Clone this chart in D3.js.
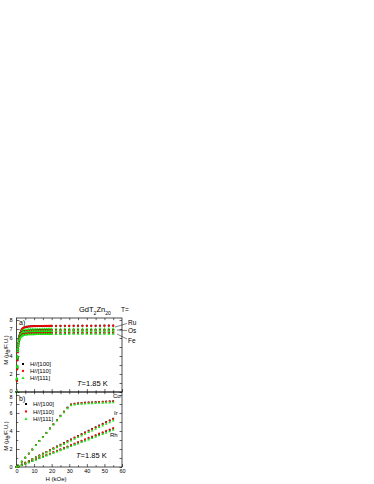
<!DOCTYPE html>
<html>
<head>
<meta charset="utf-8">
<script src="https://cdn.jsdelivr.net/npm/d3@7"></script>
<style>
  body { margin: 0; background: #fff; }
  svg { font-family: "Liberation Sans", Arial, sans-serif; }
  .tick text { font-size: 5.5px; fill: #000; }
  .tick line { stroke: #000; stroke-width: 0.6; }
</style>
</head>
<body>
<div id="chart"></div>
<script>
// field values (kOe)
var hA = [0, 0.2, 0.4, 0.6, 0.8, 1, 1.3, 1.6, 2, 2.5, 3, 3.5, 4,
  5, 6, 7, 8, 9, 10, 11, 12, 13, 14, 15, 16, 17, 18, 19, 20,
  22.5, 25, 27.5, 30, 32.5, 35, 37.5, 40, 42.5, 45, 47.5, 50, 52.5, 55];
var hB = [0, 1, 3, 5, 7, 9, 11, 13, 15, 17, 19, 21, 23, 25, 27, 29,
  31, 33, 35, 37, 39, 41, 43, 45, 47, 49, 51, 53, 55];

// panel a) T = Ru, Os, Fe
var ru100 = [0, 1.4, 2.8, 3.9, 4.8, 5.4, 5.9, 6.25, 6.55, 6.8, 6.95, 7.05, 7.12,
  7.2, 7.25, 7.28, 7.3, 7.31, 7.32, 7.32, 7.33, 7.33, 7.33, 7.34, 7.34, 7.34, 7.34, 7.35, 7.35,
  7.35, 7.35, 7.35, 7.35, 7.36, 7.36, 7.36, 7.36, 7.36, 7.36, 7.37, 7.37, 7.37, 7.37];
var ru110 = [0, 1.3, 2.7, 3.8, 4.7, 5.35, 5.85, 6.2, 6.5, 6.78, 6.93, 7.04, 7.11,
  7.19, 7.24, 7.27, 7.29, 7.3, 7.31, 7.32, 7.32, 7.33, 7.33, 7.33, 7.34, 7.34, 7.34, 7.34, 7.35,
  7.35, 7.35, 7.35, 7.35, 7.35, 7.36, 7.36, 7.36, 7.36, 7.36, 7.36, 7.37, 7.37, 7.37];
var ru111 = [0, 1.5, 2.9, 4.0, 4.9, 5.45, 5.85, 6.15, 6.4, 6.6, 6.72, 6.8, 6.85,
  6.9, 6.93, 6.95, 6.96, 6.97, 6.97, 6.98, 6.98, 6.98, 6.99, 6.99, 6.99, 6.99, 7.0, 7.0, 7.0,
  7.0, 7.0, 7.0, 7.0, 7.01, 7.01, 7.01, 7.01, 7.01, 7.01, 7.02, 7.02, 7.02, 7.02];
var os100 = [0, 1.4, 2.7, 3.8, 4.7, 5.3, 5.75, 6.05, 6.3, 6.5, 6.6, 6.67, 6.71,
  6.75, 6.77, 6.79, 6.8, 6.81, 6.81, 6.82, 6.82, 6.82, 6.83, 6.83, 6.83, 6.83, 6.84, 6.84, 6.84,
  6.84, 6.84, 6.85, 6.85, 6.85, 6.85, 6.85, 6.85, 6.86, 6.86, 6.86, 6.86, 6.86, 6.86];
var os110 = [0, 1.3, 2.6, 3.7, 4.6, 5.25, 5.7, 6.02, 6.28, 6.48, 6.59, 6.66, 6.7,
  6.74, 6.77, 6.78, 6.8, 6.8, 6.81, 6.81, 6.82, 6.82, 6.82, 6.83, 6.83, 6.83, 6.83, 6.84, 6.84,
  6.84, 6.84, 6.84, 6.85, 6.85, 6.85, 6.85, 6.85, 6.85, 6.86, 6.86, 6.86, 6.86, 6.86];
var os111 = [0, 1.5, 2.8, 3.9, 4.75, 5.3, 5.72, 6.0, 6.22, 6.42, 6.52, 6.59, 6.63,
  6.68, 6.7, 6.72, 6.73, 6.74, 6.75, 6.75, 6.76, 6.76, 6.76, 6.77, 6.77, 6.77, 6.77, 6.78, 6.78,
  6.78, 6.78, 6.78, 6.79, 6.79, 6.79, 6.79, 6.79, 6.8, 6.8, 6.8, 6.8, 6.8, 6.8];
var fe100 = [0, 1.3, 2.6, 3.6, 4.5, 5.1, 5.55, 5.85, 6.05, 6.22, 6.32, 6.38, 6.42,
  6.46, 6.48, 6.5, 6.51, 6.52, 6.52, 6.53, 6.53, 6.53, 6.54, 6.54, 6.54, 6.54, 6.55, 6.55, 6.55,
  6.55, 6.55, 6.55, 6.55, 6.56, 6.56, 6.56, 6.56, 6.56, 6.56, 6.56, 6.57, 6.57, 6.57];
var fe110 = [0, 1.2, 2.5, 3.5, 4.4, 5.05, 5.5, 5.82, 6.03, 6.2, 6.31, 6.37, 6.41,
  6.45, 6.48, 6.49, 6.5, 6.51, 6.52, 6.52, 6.53, 6.53, 6.53, 6.54, 6.54, 6.54, 6.54, 6.55, 6.55,
  6.55, 6.55, 6.55, 6.55, 6.55, 6.56, 6.56, 6.56, 6.56, 6.56, 6.56, 6.57, 6.57, 6.57];
var fe111 = [0, 1.4, 2.7, 3.7, 4.55, 5.1, 5.5, 5.78, 5.96, 6.12, 6.21, 6.27, 6.31,
  6.35, 6.37, 6.39, 6.4, 6.41, 6.41, 6.42, 6.42, 6.42, 6.43, 6.43, 6.43, 6.43, 6.44, 6.44, 6.44,
  6.44, 6.44, 6.44, 6.45, 6.45, 6.45, 6.45, 6.45, 6.45, 6.45, 6.46, 6.46, 6.46, 6.46];

// panel b) T = Co, Ir, Rh
var co100 = [0, 0.15, 0.6, 1.05, 1.5, 1.95, 2.45, 2.9, 3.35, 3.8, 4.3, 4.75, 5.2, 5.7, 6.15, 6.6,
  6.95, 7.03, 7.08, 7.12, 7.15, 7.17, 7.19, 7.21, 7.23, 7.25, 7.27, 7.29, 7.31];
var co110 = [0, 0.14, 0.58, 1.03, 1.48, 1.94, 2.43, 2.88, 3.34, 3.79, 4.28, 4.74, 5.19, 5.68, 6.13, 6.58,
  6.93, 7.02, 7.07, 7.11, 7.14, 7.16, 7.18, 7.2, 7.22, 7.24, 7.26, 7.27, 7.29];
var co111 = [0, 0.16, 0.6, 1.04, 1.49, 1.94, 2.42, 2.87, 3.32, 3.77, 4.25, 4.7, 5.15, 5.62, 6.06, 6.5,
  6.84, 6.92, 6.97, 7.0, 7.03, 7.05, 7.07, 7.09, 7.1, 7.12, 7.13, 7.15, 7.16];
var ir100 = [0, 0.08, 0.28, 0.48, 0.68, 0.88, 1.08, 1.28, 1.48, 1.68, 1.88, 2.08, 2.28, 2.48, 2.68, 2.88,
  3.07, 3.27, 3.46, 3.66, 3.85, 4.04, 4.23, 4.42, 4.61, 4.8, 4.99, 5.18, 5.37];
var ir110 = [0, 0.08, 0.27, 0.47, 0.67, 0.87, 1.07, 1.27, 1.47, 1.66, 1.86, 2.06, 2.26, 2.45, 2.65, 2.85,
  3.04, 3.24, 3.43, 3.62, 3.81, 4.0, 4.19, 4.38, 4.57, 4.76, 4.95, 5.14, 5.32];
var ir111 = [0, 0.07, 0.26, 0.45, 0.64, 0.83, 1.02, 1.21, 1.4, 1.59, 1.78, 1.97, 2.16, 2.35, 2.54, 2.73,
  2.92, 3.11, 3.3, 3.48, 3.67, 3.85, 4.04, 4.22, 4.41, 4.59, 4.78, 4.96, 5.15];
var rh100 = [0, 0.05, 0.2, 0.36, 0.52, 0.68, 0.84, 1.0, 1.15, 1.31, 1.47, 1.62, 1.78, 1.93, 2.09, 2.24,
  2.4, 2.55, 2.71, 2.86, 3.02, 3.17, 3.33, 3.48, 3.64, 3.79, 3.95, 4.1, 4.26];
var rh110 = [0, 0.06, 0.22, 0.38, 0.54, 0.7, 0.86, 1.02, 1.18, 1.34, 1.5, 1.66, 1.82, 1.97, 2.13, 2.29,
  2.45, 2.61, 2.77, 2.92, 3.08, 3.24, 3.4, 3.55, 3.71, 3.87, 4.03, 4.18, 4.34];
var rh111 = [0, 0.05, 0.19, 0.34, 0.49, 0.64, 0.8, 0.95, 1.1, 1.25, 1.4, 1.55, 1.7, 1.85, 2.0, 2.15,
  2.3, 2.45, 2.6, 2.75, 2.9, 3.04, 3.19, 3.34, 3.49, 3.64, 3.79, 3.94, 4.1];

var directions = ["H//[100]", "H//[110]", "H//[111]"];
var colors = ["#000000", "#ff0000", "#19e619"];
var shapes = [d3.symbolSquare, d3.symbolCircle, d3.symbolTriangle];
var yTicks = [0, 2, 4, 6, 7, 8];
var xTicks = [0, 10, 20, 30, 40, 50, 60];

var panelA = [[ru100, ru110, ru111], [os100, os110, os111], [fe100, fe110, fe111]];
var panelB = [[co100, co110, co111], [ir100, ir110, ir111], [rh100, rh110, rh111]];

var svg = d3.select("#chart").append("svg")
  .attr("width", 374)
  .attr("height", 484);

var x = d3.scaleLinear().domain([0, 60]).range([16.5, 122]);
var yA = d3.scaleLinear().domain([0, 8.22]).range([392, 318]);
var yB = d3.scaleLinear().domain([0, 8.33]).range([467, 392]);

// nudge labels where the two panels meet so "0" and "8" don't collide
function drawFrame(y, showX, nudge) {
  var g = svg.append("g");
  var top = y.range()[1], bottom = y.range()[0];

  // left axis, major + minor
  g.append("g").attr("transform", "translate(16.5,0)")
    .call(d3.axisLeft(y).tickValues(yTicks).tickSize(-3).tickPadding(4))
    .call(a => a.select(".domain").remove())
    .call(a => a.selectAll(".tick text")
      .attr("transform", d => d === nudge.value ? `translate(0,${nudge.dy})` : null));
  g.append("g").attr("transform", "translate(16.5,0)")
    .call(d3.axisLeft(y).tickValues([1, 3, 5]).tickSize(-1.8).tickFormat(""))
    .call(a => a.select(".domain").remove());
  // right axis
  g.append("g").attr("transform", "translate(122,0)")
    .call(d3.axisRight(y).tickValues([0, 1, 2, 3, 4, 5, 6, 7, 8]).tickSize(-2.5).tickFormat(""))
    .call(a => a.select(".domain").remove());
  // top axis
  g.append("g").attr("transform", `translate(0,${top})`)
    .call(d3.axisTop(x).tickValues(d3.range(5, 60, 5)).tickSize(-2.2).tickFormat(""))
    .call(a => a.select(".domain").remove());
  // bottom axis
  var bx = g.append("g").attr("transform", `translate(0,${bottom})`)
    .call(d3.axisBottom(x).tickValues(xTicks).tickSize(-3).tickPadding(2)
      .tickFormat(showX ? d3.format("d") : ""));
  bx.select(".domain").remove();
  g.append("g").attr("transform", `translate(0,${bottom})`)
    .call(d3.axisBottom(x).tickValues([5, 15, 25, 35, 45, 55]).tickSize(-1.8).tickFormat(""))
    .call(a => a.select(".domain").remove());

  g.append("rect")
    .attr("x", 16.5).attr("y", top)
    .attr("width", 122 - 16.5).attr("height", bottom - top)
    .attr("fill", "none").attr("stroke", "#000").attr("stroke-width", 0.7);
}

function drawSeries(h, groups, y, sizes) {
  groups.forEach(function(grp) {
    grp.forEach(function(vals, i) {
      var pts = h.map((d, k) => ({ h: d, m: vals[k] }));
      svg.append("g").selectAll("path")
        .data(pts)
        .enter()
        .append("path")
        .attr("transform", d => `translate(${x(d.h)},${y(d.m)})`)
        .attr("d", d3.symbol().type(shapes[i]).size(sizes[i]))
        .attr("fill", colors[i]);
    });
  });
}

function drawLegend(x0, y0, dy) {
  directions.forEach(function(dir, i) {
    svg.append("path")
      .attr("transform", `translate(${x0},${y0 + i * dy - 2})`)
      .attr("d", d3.symbol().type(shapes[i]).size(4))
      .attr("fill", colors[i]);
    svg.append("text")
      .attr("x", x0 + 7).attr("y", y0 + i * dy)
      .attr("font-size", 6)
      .text(dir);
  });
}

function yLabel(cy) {
  var t = svg.append("text")
    .attr("transform", `translate(8,${cy}) rotate(-90)`)
    .attr("text-anchor", "middle")
    .attr("font-size", 6);
  t.append("tspan").text("M (\u03bc");
  t.append("tspan").attr("font-size", 4.5).attr("dy", 1.5).text("B");
  t.append("tspan").attr("dy", -1.5).text("/F.U.)");
}

function tLabel(x0, y0) {
  var t = svg.append("text").attr("x", x0).attr("y", y0).attr("font-size", 7.5);
  t.append("tspan").attr("font-style", "italic").text("T");
  t.append("tspan").text("=1.85 K");
}

// panel a
drawFrame(yA, false, { value: 0, dy: -1.3 });
drawSeries(hA, panelA, yA, [3.5, 3.5, 4]);
svg.append("text").attr("x", 19).attr("y", 325).attr("font-size", 7).text("a)");
drawLegend(23, 366, 7);
tLabel(77, 386);
yLabel(350);

// title
var title = svg.append("text").attr("x", 79).attr("y", 312).attr("font-size", 7.5);
title.append("tspan").text("GdT");
title.append("tspan").attr("font-size", 5).attr("dy", 2.5).text("2");
title.append("tspan").attr("dy", -2.5).text("Zn");
title.append("tspan").attr("font-size", 5).attr("dy", 2.5).text("20");
svg.append("text").attr("x", 121).attr("y", 312).attr("font-size", 6.5).text("T=");

// compound labels with leader lines
var aLabels = ["Ru", "Os", "Fe"];
var aLabelY = [325, 333, 343];
var aLineFrom = [[115, 327], [117, 330], [117, 334]];
var aLineTo = [[127, 323.5], [127, 330.5], [127, 339]];
aLabels.forEach(function(s, i) {
  svg.append("line")
    .attr("x1", aLineFrom[i][0]).attr("y1", aLineFrom[i][1])
    .attr("x2", aLineTo[i][0]).attr("y2", aLineTo[i][1])
    .attr("stroke", "#000").attr("stroke-width", 0.5);
  svg.append("text").attr("x", 128).attr("y", aLabelY[i]).attr("font-size", 6.5).text(s);
});

// panel b
drawFrame(yB, true, { value: 8, dy: 1.5 });
drawSeries(hB, panelB, yB, [3, 3, 3.2]);
svg.append("text").attr("x", 19).attr("y", 401).attr("font-size", 7).text("b)");
drawLegend(26, 406, 7.5);
tLabel(76, 458);
yLabel(436);

var bLabels = ["Co", "Ir", "Rh"];
var bLabelPos = [[113, 398], [114, 415], [110, 437]];
bLabels.forEach(function(s, i) {
  svg.append("text").attr("x", bLabelPos[i][0]).attr("y", bLabelPos[i][1])
    .attr("font-size", 6).text(s);
});

svg.append("text")
  .attr("x", 56).attr("y", 481)
  .attr("text-anchor", "middle")
  .attr("font-size", 6)
  .text("H (kOe)");
</script>
</body>
</html>
